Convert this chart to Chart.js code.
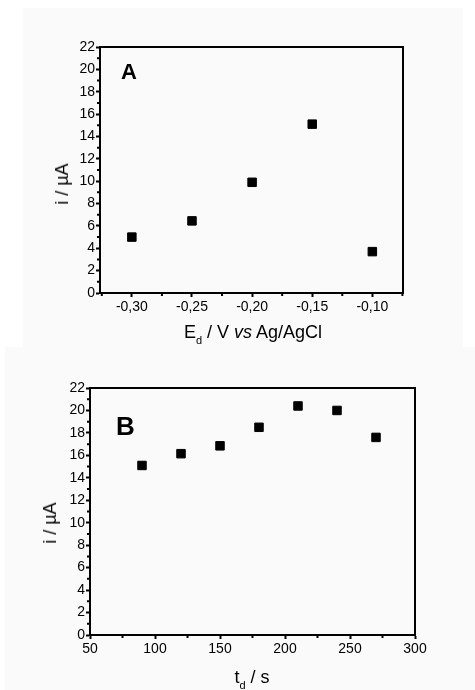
<!DOCTYPE html>
<html>
<head>
<meta charset="utf-8">
<script src="https://cdn.jsdelivr.net/npm/chart.js@4"></script>
<style>
  body { margin: 0; background: #fff; font-family: "Liberation Sans", Arial, sans-serif; color: #000; }
  .panel { position: absolute; background: #fafafa; }
  .panel canvas { position: absolute; left: 0; top: 0; }
  .lbl { position: absolute; white-space: nowrap; font-size: 18px; line-height: 18px; }
  .ytitle { transform: translate(-50%, -50%) rotate(-90deg); }
  .xtitle { transform: translateX(-50%); }
  .sub { font-size: 11px; position: relative; top: 6px; }
  .tag { position: absolute; font-weight: bold; line-height: 1; }
</style>
</head>
<body>
<div class="panel" style="left:23px;top:8px;width:440px;height:339px">
  <canvas id="chartA" width="440" height="339"></canvas>
</div>
<div class="panel" style="left:5px;top:347px;width:470px;height:343px">
  <canvas id="chartB" width="470" height="343"></canvas>
</div>

<div class="tag" style="left:121px;top:61px;font-size:22px">A</div>
<div class="lbl ytitle" style="left:62px;top:184px">i / µA</div>
<div class="lbl xtitle" style="left:253px;top:323px">E<span class="sub">d</span> / V <i>vs</i> Ag/AgCl</div>

<div class="tag" style="left:116px;top:413px;font-size:26px">B</div>
<div class="lbl ytitle" style="left:50px;top:523px">i / µA</div>
<div class="lbl xtitle" style="left:252px;top:668px">t<span class="sub">d</span> / s</div>

<script>
// Panel A: current vs deposition potential
const potentialA = [-0.30, -0.25, -0.20, -0.15, -0.10];
const currentA = [5.0, 6.45, 9.9, 15.1, 3.7];
const xTicksA = [-0.30, -0.25, -0.20, -0.15, -0.10];

// Panel B: current vs deposition time
const timeB = [90, 120, 150, 180, 210, 240, 270];
const currentB = [15.1, 16.15, 16.85, 18.5, 20.4, 20.0, 17.6];
const xTicksB = [50, 100, 150, 200, 250, 300];

const yTicks = [0, 2, 4, 6, 8, 10, 12, 14, 16, 18, 20, 22];

const tickFont = { family: "'Liberation Sans', Arial, sans-serif", size: 14 };

// midpoints between major ticks (plus one step beyond each end)
function minorsOf(ticks) {
  const step = ticks[1] - ticks[0];
  const out = [];
  for (let i = -1; i < ticks.length; i++) out.push(ticks[0] + (i + 0.5) * step);
  return out;
}

const framePlugin = {
  id: "frame",
  afterDraw(chart, args, opts) {
    const { ctx, chartArea: a, scales: { x, y } } = chart;
    ctx.save();
    ctx.strokeStyle = "#000";
    ctx.lineWidth = 2;
    ctx.strokeRect(a.left, a.top, a.right - a.left, a.bottom - a.top);
    ctx.beginPath();
    opts.minorX.forEach(v => {
      if (v < x.min || v > x.max) return;
      const px = x.getPixelForValue(v);
      ctx.moveTo(px, a.bottom);
      ctx.lineTo(px, a.bottom + 3);
    });
    opts.minorY.forEach(v => {
      if (v < y.min || v > y.max) return;
      const py = y.getPixelForValue(v);
      ctx.moveTo(a.left, py);
      ctx.lineTo(a.left - 3, py);
    });
    ctx.stroke();
    ctx.restore();
  }
};

function makeChart(id, xs, ys, xTicks, xMin, xMax, fmt, box) {
  const ctx = document.getElementById(id).getContext("2d");
  return new Chart(ctx, {
    type: "scatter",
    data: {
      datasets: [{
        data: xs.map((v, i) => ({ x: v, y: ys[i] })),
        pointStyle: "rect",
        pointRadius: 6,
        backgroundColor: "#000",
        borderColor: "#000",
        borderWidth: 1
      }]
    },
    options: {
      responsive: false,
      animation: false,
      events: [],
      layout: { padding: { top: box.top, right: box.right, left: 0, bottom: 0 } },
      plugins: {
        legend: { display: false },
        tooltip: { enabled: false },
        frame: { minorX: minorsOf(xTicks), minorY: minorsOf(yTicks) }
      },
      scales: {
        x: {
          type: "linear",
          min: xMin,
          max: xMax,
          afterFit: s => { s.height = box.xh; },
          afterBuildTicks: s => { s.ticks = xTicks.map(v => ({ value: v })); },
          border: { display: true, color: "#000", width: 2 },
          grid: { drawOnChartArea: false, drawTicks: true, tickLength: 4, tickWidth: 2, tickColor: "#000" },
          ticks: { color: "#000", font: tickFont, padding: 2, maxRotation: 0, autoSkip: false, callback: fmt }
        },
        y: {
          type: "linear",
          min: 0,
          max: 22,
          afterFit: s => { s.width = box.yw; },
          afterBuildTicks: s => { s.ticks = yTicks.map(v => ({ value: v })); },
          border: { display: true, color: "#000", width: 2 },
          grid: { drawOnChartArea: false, drawTicks: true, tickLength: 4, tickWidth: 2, tickColor: "#000" },
          ticks: { color: "#000", font: tickFont, padding: 1, autoSkip: false }
        }
      }
    },
    plugins: [framePlugin]
  });
}

makeChart("chartA", potentialA, currentA, xTicksA, -0.3265, -0.0745,
  v => v.toFixed(2).replace(".", ","),
  { top: 39, right: 60, yw: 77, xh: 54 });

makeChart("chartB", timeB, currentB, xTicksB, 50, 300,
  v => String(v),
  { top: 41, right: 60, yw: 85, xh: 55 });
</script>
</body>
</html>
